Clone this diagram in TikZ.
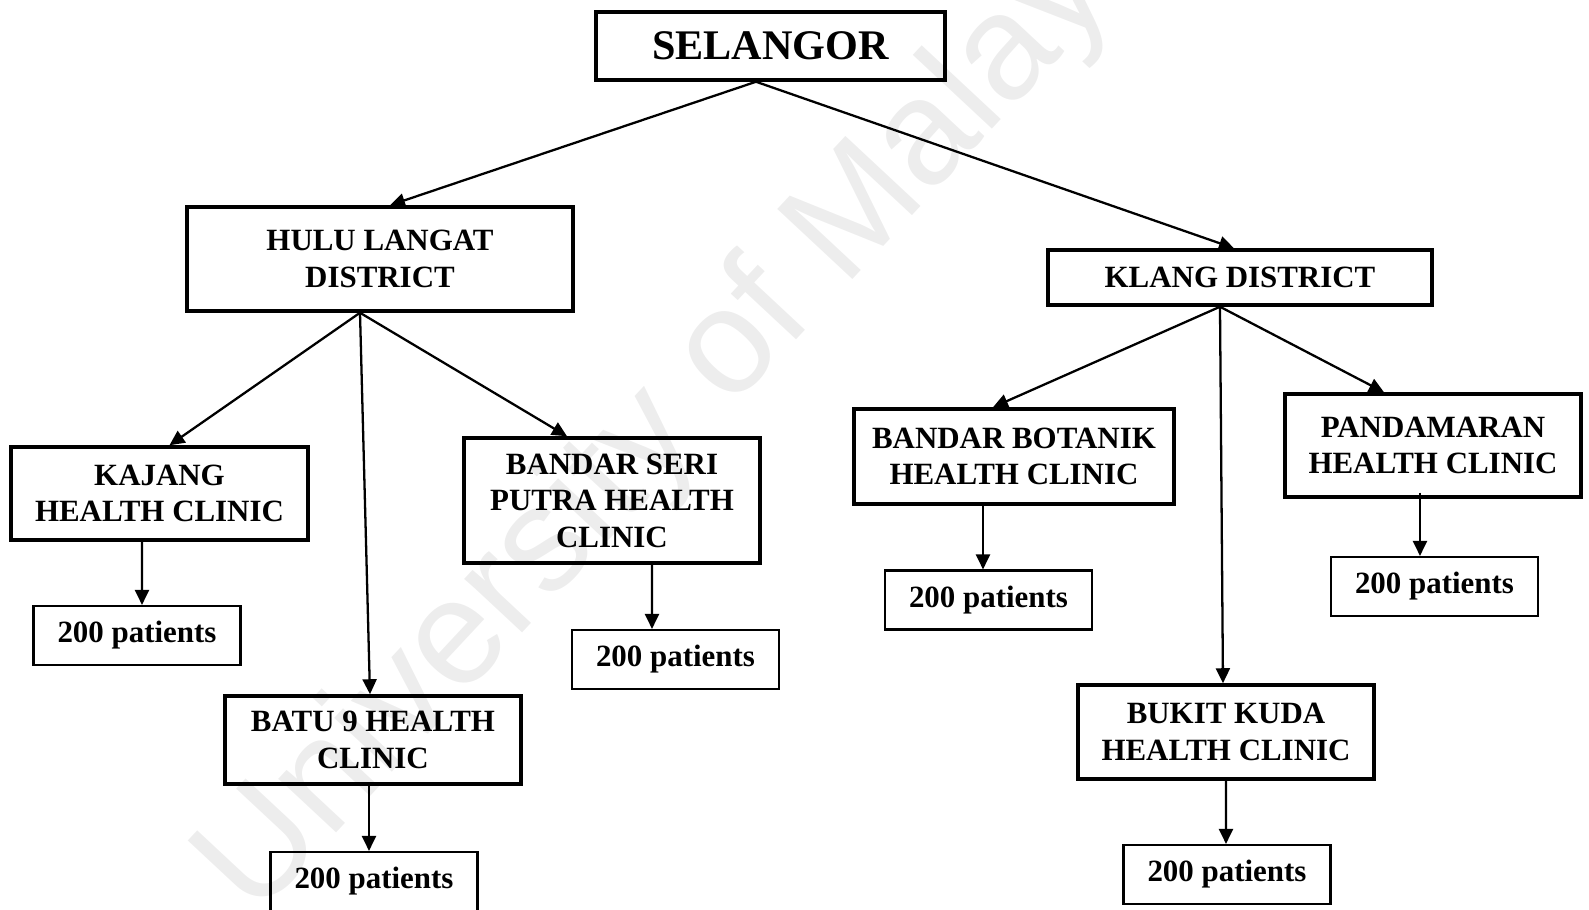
\documentclass[tikz,border=0pt]{standalone}
\usepackage{fontspec}
\setmainfont{Liberation Serif}
\newfontfamily\wmfont{Liberation Sans}
\usetikzlibrary{arrows.meta}
\pgfdeclarelayer{bg}
\pgfsetlayers{bg,main}

\begin{document}
\begin{tikzpicture}[
        box/.style={draw, line width=1pt, align=center, inner sep=0pt,
                font=\bfseries\fontsize{8.8}{10.4}\selectfont},
        count/.style={draw, line width=0.6pt, inner sep=0pt,
                minimum width=2.07cm, minimum height=0.59cm,
                font=\bfseries\fontsize{8.8}{10.4}\selectfont},
        link/.style={line width=0.65pt, -{Triangle[length=0.15cm,width=0.14cm]}},
        wmtext/.style={text=black!7, font=\wmfont\fontsize{42.5}{42.5}\selectfont,
                rotate=47, anchor=base west, inner sep=0pt}]
        \useasboundingbox (0cm, 0cm) rectangle (15.89cm, -9.10cm);
        \node (s0) [box, minimum width=3.49cm, minimum height=0.68cm,
                font=\bfseries\fontsize{12}{14}\selectfont] at (7.705cm, -0.460cm) {SELANGOR};
        \node (d1) [box, minimum width=3.86cm, minimum height=1.04cm] at (3.800cm, -2.590cm) {HULU LANGAT\\DISTRICT};
        \node (d2) [box, minimum width=3.84cm, minimum height=0.55cm] at (12.400cm, -2.775cm) {KLANG DISTRICT};
        \node (c1) [box, minimum width=2.97cm, minimum height=0.93cm] at (1.595cm, -4.935cm) {KAJANG\\HEALTH CLINIC};
        \node (c2) [box, minimum width=2.96cm, minimum height=0.88cm] at (3.730cm, -7.400cm) {BATU 9 HEALTH\\CLINIC};
        \node (c3) [box, minimum width=2.96cm, minimum height=1.25cm] at (6.120cm, -5.005cm) {BANDAR SERI\\PUTRA HEALTH\\CLINIC};
        \node (c4) [box, minimum width=3.20cm, minimum height=0.95cm] at (10.140cm, -4.565cm) {BANDAR BOTANIK\\HEALTH CLINIC};
        \node (c5) [box, minimum width=2.96cm, minimum height=0.94cm] at (12.260cm, -7.320cm) {BUKIT KUDA\\HEALTH CLINIC};
        \node (c6) [box, minimum width=2.96cm, minimum height=1.03cm] at (14.330cm, -4.455cm) {PANDAMARAN\\HEALTH CLINIC};
        \node (p1) [count] at (1.370cm, -6.355cm) {200 patients};
        \node (p2) [count] at (3.740cm, -8.815cm) {200 patients};
        \node (p3) [count] at (6.755cm, -6.595cm) {200 patients};
        \node (p4) [count] at (9.885cm, -6.000cm) {200 patients};
        \node (p5) [count] at (12.270cm, -8.745cm) {200 patients};
        \node (p6) [count] at (14.345cm, -5.865cm) {200 patients};
        \coordinate (s0f) at ([xshift=-0.145cm]s0.south);
        \coordinate (d1f) at ([xshift=-0.20cm]d1.south);
        \coordinate (d2f) at ([xshift=-0.20cm]d2.south);
        \begin{pgfonlayer}{bg}
                \node (wm) [wmtext] at (2.55cm, -9.20cm) {University of Malaya};
                \draw (s0f) edge [link] ([xshift=0.10cm]d1.north);
                \draw (s0f) edge [link] ([xshift=-0.06cm]d2.north);
                \draw (d1f) edge [link] ([xshift=0.10cm]c1.north);
                \draw (d1f) edge [link] ([xshift=-0.03cm]c2.north);
                \draw (d1f) edge [link] ([xshift=-0.45cm]c3.north);
                \draw (d2f) edge [link] ([xshift=-0.21cm]c4.north);
                \draw (d2f) edge [link] ([xshift=-0.03cm]c5.north);
                \draw (d2f) edge [link] ([xshift=-0.49cm]c6.north);
                \draw ([xshift=-0.175cm]c1.south) edge [link] ([xshift=0.05cm]p1.north);
                \draw ([xshift=-0.04cm]c2.south) edge [link] ([xshift=-0.05cm]p2.north);
                \draw ([xshift=0.40cm]c3.south) edge [link] ([xshift=-0.235cm]p3.north);
                \draw ([xshift=-0.31cm]c4.south) edge [link] ([xshift=-0.055cm]p4.north);
                \draw (c5.south) edge [link] ([xshift=-0.01cm]p5.north);
                \draw ([xshift=-0.13cm,yshift=0.06cm]c6.south) edge [link] ([xshift=-0.145cm]p6.north);
        \end{pgfonlayer}
\end{tikzpicture}
\end{document}
